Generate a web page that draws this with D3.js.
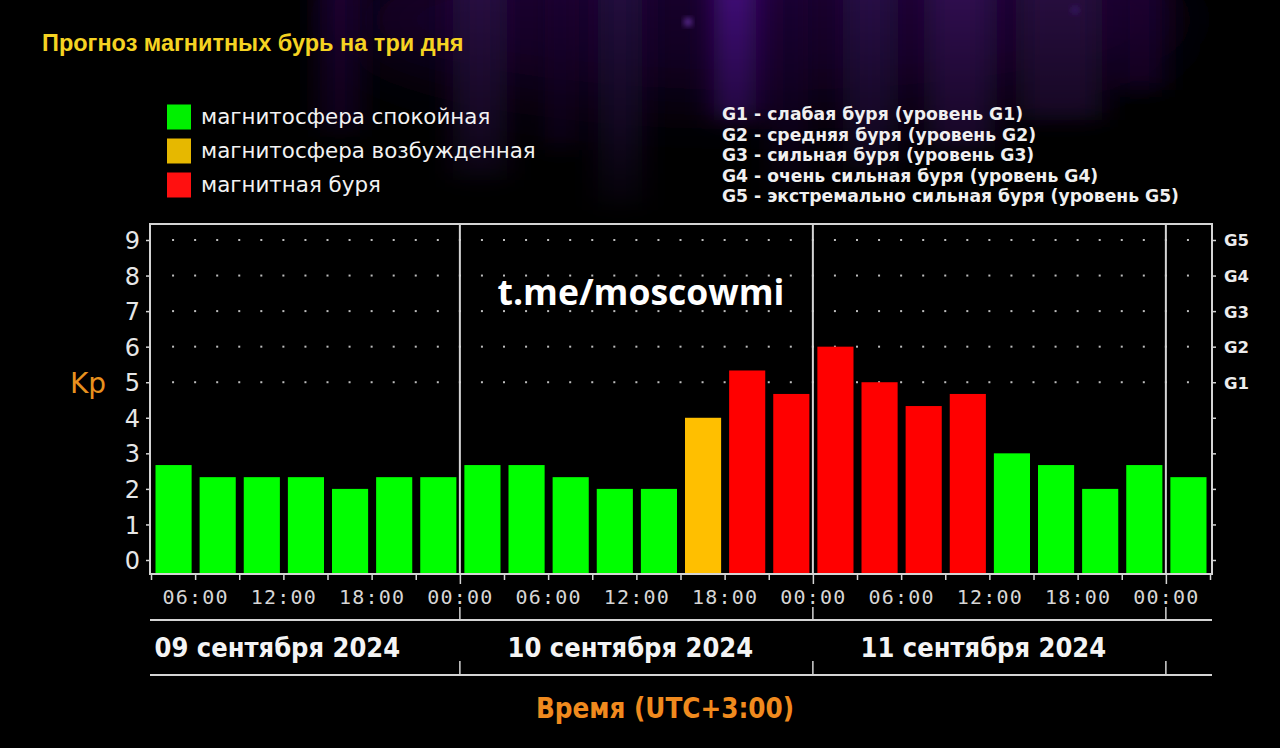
<!DOCTYPE html>
<html><head><meta charset="utf-8">
<script src="https://cdn.jsdelivr.net/npm/d3@7/dist/d3.min.js"></script>
<style>
html,body{margin:0;padding:0;background:#000;}
svg{display:block;}
</style></head>
<body>
<svg id="chart" width="1280" height="748"></svg>
<script>
// ---------- data ----------
const titleText = "Прогноз магнитных бурь на три дня";
const watermark = "t.me/moscowmi";
const kpValues = [
  2.67, 2.33, 2.33, 2.33, 2.00, 2.33, 2.33,            // 09 Sep 03:00-24:00
  2.67, 2.67, 2.33, 2.00, 2.00, 4.00, 5.33, 4.67,      // 10 Sep
  6.00, 5.00, 4.33, 4.67, 3.00, 2.67, 2.00, 2.67,      // 11 Sep
  2.33                                                  // 12 Sep 00:00-03:00
];
const startTime = new Date(Date.UTC(2024, 8, 9, 3));
const endTime = new Date(Date.UTC(2024, 8, 12, 3));
const dayLabels = ["09 сентября 2024", "10 сентября 2024", "11 сентября 2024"];
const yTicks = [0, 1, 2, 3, 4, 5, 6, 7, 8, 9];
const gTicks = [5, 6, 7, 8, 9];
const gTickLabels = ["G1", "G2", "G3", "G4", "G5"];
const legendLabels = ["магнитосфера спокойная", "магнитосфера возбужденная", "магнитная буря"];
const legendColors = ["#00f000", "#e6b800", "#ff1010"];
const gLegend = [
  "G1 - слабая буря (уровень G1)",
  "G2 - средняя буря (уровень G2)",
  "G3 - сильная буря (уровень G3)",
  "G4 - очень сильная буря (уровень G4)",
  "G5 - экстремально сильная буря (уровень G5)"
];
const yAxisTitle = "Kp";
const xAxisTitle = "Время (UTC+3:00)";
const barColors = {quiet: "#00ff00", active: "#ffbf00", storm: "#ff0000"};

// ---------- layout ----------
const svg = d3.select("#chart");
const W = 1280, H = 748;
const frame = {left: 150, right: 1212, top: 224, bottom: 574};
const x = d3.scaleUtc().domain([startTime, endTime]).range([151, 1210]);
const y = d3.scaleLinear().domain([0, 9]).range([560, 240]);
const lineColor = "#d4d4d4";

// ---------- background ----------
svg.append("rect").attr("width", W).attr("height", H).attr("fill", "#000");
const defs = svg.append("defs");
defs.append("filter").attr("id", "blur").attr("x", "-50%").attr("y", "-50%").attr("width", "200%").attr("height", "200%")
  .append("feGaussianBlur").attr("stdDeviation", "14 10");
defs.append("filter").attr("id", "blurHaze").attr("x", "-50%").attr("y", "-50%").attr("width", "200%").attr("height", "200%")
  .append("feGaussianBlur").attr("stdDeviation", 30);
defs.append("filter").attr("id", "blur2").attr("x", "-50%").attr("y", "-50%").attr("width", "200%").attr("height", "200%")
  .append("feGaussianBlur").attr("stdDeviation", 3);
const fade = defs.append("linearGradient").attr("id", "fade").attr("x1", 0).attr("x2", 0).attr("y1", 0).attr("y2", 1);
fade.append("stop").attr("offset", "0%").attr("stop-color", "#fff").attr("stop-opacity", 1);
fade.append("stop").attr("offset", "55%").attr("stop-color", "#fff").attr("stop-opacity", 0.55);
fade.append("stop").attr("offset", "100%").attr("stop-color", "#fff").attr("stop-opacity", 0);
const mask = defs.append("mask").attr("id", "fadeMask");
mask.append("rect").attr("x", 0).attr("y", 0).attr("width", W).attr("height", 230).attr("fill", "url(#fade)");

const bg = svg.append("g").attr("mask", "url(#fadeMask)");
bg.append("ellipse").attr("cx", 760).attr("cy", 20).attr("rx", 420).attr("ry", 90)
  .attr("fill", "#16032a").attr("filter", "url(#blurHaze)");
const streaks = [
  [340, 40, 130, "#1c0532"],
  [480, 55, 180, "#260840"],
  [560, 30, 150, "#1c0532"],
  [620, 45, 210, "#24073c"],
  [735, 42, 120, "#42107a"],
  [790, 35, 190, "#1e0636"],
  [870, 55, 170, "#270844"],
  [960, 70, 150, "#2e0a4e"],
  [1060, 85, 120, "#25073e"],
  [1140, 45, 90, "#1c0532"]
];
const sg = bg.append("g").attr("filter", "url(#blur)");
streaks.forEach(s => sg.append("rect").attr("x", s[0] - s[1] / 2).attr("y", -20).attr("width", s[1]).attr("height", s[2] + 20)
  .attr("fill", s[3]));
svg.append("circle").attr("cx", 688).attr("cy", 22).attr("r", 3.5).attr("fill", "#8040c8").attr("filter", "url(#blur2)");
svg.append("circle").attr("cx", 1075).attr("cy", 10).attr("r", 3.5).attr("fill", "#3a1a70").attr("filter", "url(#blur2)");

// ---------- title ----------
svg.append("text").attr("x", 42).attr("y", 51).text(titleText)
  .attr("font-family", "Liberation Sans, Arial, sans-serif").attr("font-weight", "bold")
  .attr("font-size", 23.5).attr("fill", "#f5d322");

// ---------- legends ----------
const leg = svg.append("g");
legendLabels.forEach((t, i) => {
  const cy = 117 + i * 34;
  leg.append("rect").attr("x", 167).attr("y", cy - 12.5).attr("width", 24).attr("height", 25).attr("fill", legendColors[i]);
  leg.append("text").attr("x", 201).attr("y", cy).attr("dy", "0.35em").text(t)
    .attr("font-family", "DejaVu Sans, sans-serif").attr("font-size", 21.4).attr("fill", "#f2f2f2");
});
gLegend.forEach((t, i) => {
  svg.append("text").attr("x", 722).attr("y", 114 + i * 20.5).attr("dy", "0.36em").text(t)
    .attr("font-family", "DejaVu Sans, sans-serif").attr("font-weight", "bold")
    .attr("font-size", 17.2).attr("fill", "#f0f0f0");
});

// ---------- grid dots ----------
const dotTimes = d3.range(1, 48).map(k => new Date(+startTime + k * 1.5 * 3600e3));
const dots = svg.append("g");
gTicks.forEach(v => {
  dots.selectAll(null).data(dotTimes).join("rect")
    .attr("x", d => x(d) - 1).attr("y", y(v) - 1).attr("width", 2).attr("height", 2).attr("fill", "#bdbdbd");
});

// ---------- bars ----------
const barData = kpValues.map((v, i) => ({
  t0: new Date(+startTime + i * 3 * 3600e3),
  t1: new Date(+startTime + (i + 1) * 3 * 3600e3),
  v
}));
svg.append("g").selectAll("rect").data(barData).join("rect")
  .attr("x", d => x(d.t0) + 4.5)
  .attr("width", d => x(d.t1) - x(d.t0) - 8)
  .attr("y", d => y(d.v))
  .attr("height", d => frame.bottom - 1 - y(d.v))
  .attr("fill", d => d.v >= 4.2 ? barColors.storm : (d.v >= 4 ? barColors.active : barColors.quiet));

// ---------- frame & day dividers ----------
const dayStarts = d3.utcDay.range(new Date(Date.UTC(2024, 8, 10)), endTime);
const fr = svg.append("g").attr("stroke", lineColor).attr("stroke-width", 2).attr("fill", "none");
fr.append("line").attr("x1", frame.left).attr("x2", frame.right).attr("y1", frame.top).attr("y2", frame.top);
fr.append("line").attr("x1", frame.left).attr("x2", frame.left).attr("y1", frame.top - 1).attr("y2", frame.bottom);
fr.append("line").attr("x1", frame.right).attr("x2", frame.right).attr("y1", frame.top - 1).attr("y2", frame.bottom);
fr.append("line").attr("x1", frame.left - 1).attr("x2", frame.right + 1).attr("y1", frame.bottom).attr("y2", frame.bottom);
fr.selectAll(".div").data(dayStarts).join("line").attr("class", "div")
  .attr("x1", d => x(d)).attr("x2", d => x(d)).attr("y1", frame.top).attr("y2", frame.bottom);

// ---------- y axes ----------
const yAxis = svg.append("g").attr("transform", `translate(${frame.left},0)`)
  .call(d3.axisLeft(y).tickValues(yTicks).tickSize(4).tickPadding(6));
yAxis.select(".domain").remove();
yAxis.selectAll("line").attr("stroke", lineColor).attr("stroke-width", 1.5);
yAxis.selectAll("text").attr("font-family", "DejaVu Sans, sans-serif").attr("font-size", 24)
  .attr("fill", "#e6e6e6").attr("dy", "0.36em");

const gAxis = svg.append("g").attr("transform", `translate(${frame.right},0)`)
  .call(d3.axisRight(y).tickValues(yTicks).tickSize(4).tickPadding(8)
    .tickFormat(v => { const k = gTicks.indexOf(v); return k >= 0 ? gTickLabels[k] : ""; }));
gAxis.select(".domain").remove();
gAxis.selectAll("line").attr("stroke", lineColor).attr("stroke-width", 1.5);
gAxis.selectAll("text").attr("font-family", "DejaVu Sans, sans-serif").attr("font-weight", "bold")
  .attr("font-size", 16.5).attr("fill", "#ececec").attr("dy", "0.36em");

svg.append("text").attr("x", 88).attr("y", 385).attr("dy", "0.3em").attr("text-anchor", "middle").text(yAxisTitle)
  .attr("font-family", "DejaVu Sans, sans-serif").attr("font-size", 28).attr("fill", "#e8911e");

// ---------- x axis ----------
const minor = svg.append("g").attr("transform", `translate(0,${frame.bottom})`)
  .call(d3.axisBottom(x).ticks(d3.utcHour.every(3)).tickSize(6).tickFormat(""));
minor.select(".domain").remove();
minor.selectAll("line").attr("stroke", lineColor).attr("stroke-width", 1.5);
minor.selectAll(".tick").filter(d => d.getUTCHours() === 0).select("line").attr("y2", 10);

const labelTimes = d3.utcHour.every(6).range(new Date(Date.UTC(2024, 8, 9, 6)), new Date(Date.UTC(2024, 8, 12, 1)));
const xLab = svg.append("g").attr("transform", `translate(0,${frame.bottom})`)
  .call(d3.axisBottom(x).tickValues(labelTimes).tickSize(0).tickPadding(16).tickFormat(d3.utcFormat("%H:%M")));
xLab.select(".domain").remove();
xLab.selectAll("text").attr("font-family", "DejaVu Sans Mono, monospace").attr("font-size", 20)
  .attr("letter-spacing", 1.2).attr("fill", "#d6d6d6");

// date band
const band = svg.append("g").attr("stroke", lineColor).attr("stroke-width", 2);
[620, 675].forEach(yy => band.append("line").attr("x1", frame.left).attr("x2", frame.right).attr("y1", yy).attr("y2", yy));
band.selectAll(".t1").data(dayStarts).join("line").attr("class", "t1")
  .attr("x1", d => x(d)).attr("x2", d => x(d)).attr("y1", 607).attr("y2", 620).attr("stroke-width", 1.5);
band.selectAll(".t2").data(dayStarts).join("line").attr("class", "t2")
  .attr("x1", d => x(d)).attr("x2", d => x(d)).attr("y1", 661).attr("y2", 675).attr("stroke-width", 1.5);

const dayCenters = dayLabels.map((t, i) => ({t, c: new Date(Date.UTC(2024, 8, 9 + i, 12))}));
svg.append("g").selectAll("text").data(dayCenters).join("text")
  .attr("x", d => x(d.c) - 6).attr("y", 657).attr("text-anchor", "middle").text(d => d.t)
  .attr("font-family", "DejaVu Sans Condensed, DejaVu Sans, sans-serif").attr("font-stretch", "condensed")
  .attr("font-weight", "bold").attr("font-size", 27).attr("fill", "#f4f4f4");

svg.append("text").attr("x", 665).attr("y", 718).attr("text-anchor", "middle").text(xAxisTitle)
  .attr("font-family", "DejaVu Sans Condensed, DejaVu Sans, sans-serif").attr("font-stretch", "condensed")
  .attr("font-weight", "bold").attr("font-size", 27.5).attr("fill", "#f08a1e");

// ---------- watermark ----------
svg.append("text").attr("x", 641).attr("y", 305).attr("text-anchor", "middle").text(watermark)
  .attr("font-family", "Open Sans, Roboto, sans-serif").attr("font-weight", "bold")
  .attr("font-size", 35.5).attr("fill", "#ffffff");
</script>
</body></html>
